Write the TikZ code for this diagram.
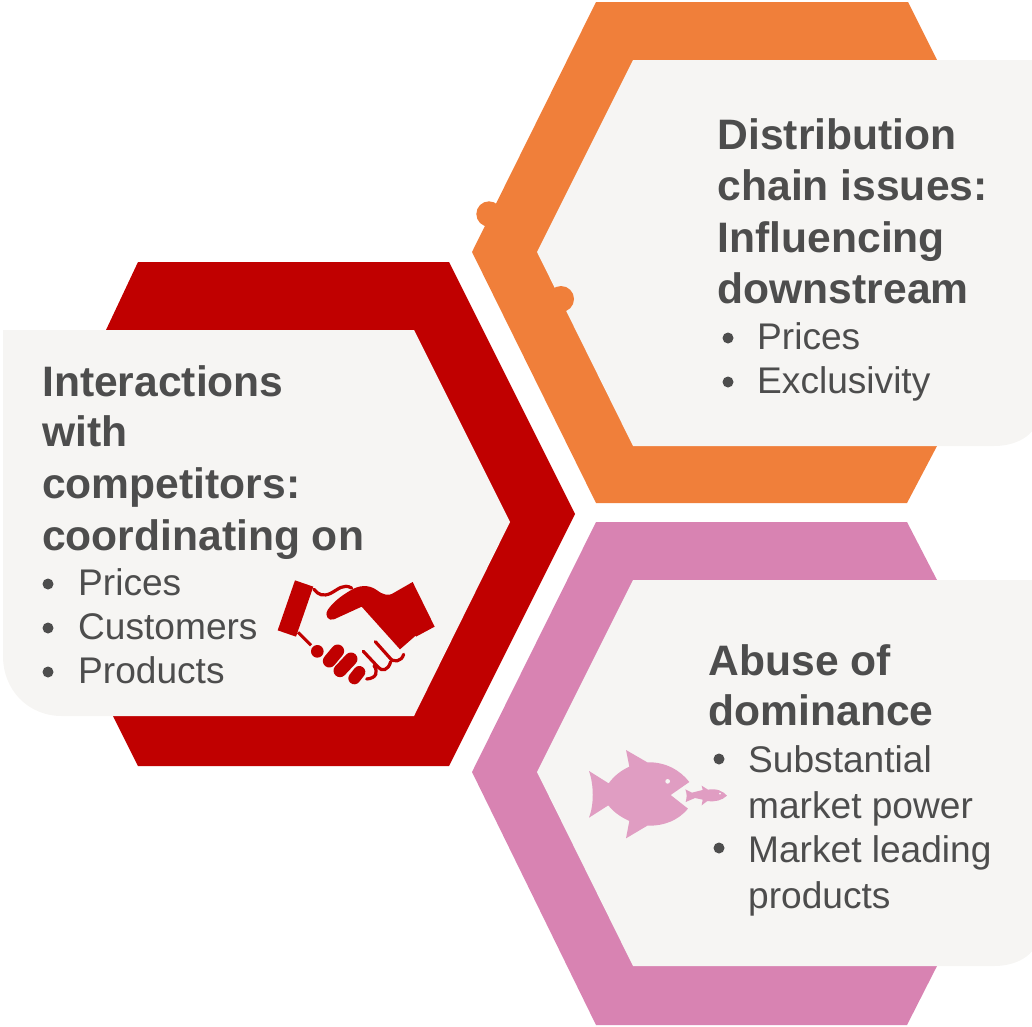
\documentclass[tikz,border=0pt]{standalone}
\usepackage{fontspec}
\setmainfont{Liberation Sans}
\definecolor{orangeC}{HTML}{F07F3A}
\definecolor{redC}{HTML}{C00000}
\definecolor{pinkC}{HTML}{D883B2}
\definecolor{fishC}{HTML}{E09DC2}
\definecolor{panelC}{HTML}{F6F5F3}
\definecolor{textC}{HTML}{4D4D4D}
\tikzset{
  heading/.style={anchor=base west,inner sep=0pt,text=textC,font=\fontsize{42.6}{42.6}\selectfont\bfseries},
  bodytext/.style={anchor=base west,inner sep=0pt,text=textC,font=\fontsize{37.1}{37.1}\selectfont},
  bulletdot/.style={circle,fill=textC,inner sep=0pt,minimum size=11pt},
  panel/.style={fill=panelC,draw=none},
  icon/.style={x=0.3333pt,y=-0.3333pt}
}
\begin{document}
\begin{tikzpicture}[x=1pt,y=-1pt]
\useasboundingbox (0,0) rectangle (1032,1026);
\clip (0,0) rectangle (1032,1026);
% orange
\fill[orangeC] (596,2) -- (908,2) -- (937,60) -- (937,446) -- (907,503) -- (596,503) -- (472,252) -- cycle;
\fill[orangeC] (489,214) circle (12.7);
\fill[panel] (633,60) -- (1040,60) -- (1040,410) .. controls (1040,432) and (1020,446) .. (994,446) -- (633,446) -- (537,252) -- cycle;
\fill[orangeC] (561,299) circle (13);
% red
\fill[redC] (138,262) -- (449,262) -- (575,514) -- (449,766) -- (138,766) -- (113,716) -- (106,330) -- cycle;
\fill[panel] (3,330) -- (414,330) -- (510,522) -- (414,716) -- (62,716) .. controls (28,716) and (3,690) .. (3,656) -- cycle;
% pink
\fill[pinkC] (596,522) -- (907,522) -- (937,580) -- (937,966) -- (907,1025) -- (596,1025) -- (472,772) -- cycle;
\fill[panel] (633,580) -- (1040,580) -- (1040,930) .. controls (1040,952) and (1020,966) .. (994,966) -- (633,966) -- (537,772) -- cycle;
% top-right text
\node[heading] (o1) at (717.5,149) {Distribution};
\node[heading] (o2) at (717.5,200) {chain issues:};
\node[heading] (o3) at (717.5,252) {Influencing};
\node[heading] (o4) at (717.5,303) {downstream};
\node[bulletdot] (ob1) at (728,338) {};
\node[bodytext] (o5) at (757,349) {Prices};
\node[bulletdot] (ob2) at (728,382) {};
\node[bodytext] (o6) at (757,393) {Exclusivity};
% left text
\node[heading] (r1) at (42,396) {Interactions};
\node[heading] (r2) at (42,446) {with};
\node[heading] (r3) at (42,498) {competitors:};
\node[heading] (r4) at (42,550) {coordinating on};
\node[bulletdot] (rb1) at (48,584) {};
\node[bodytext] (r5) at (78,595.5) {Prices};
\node[bulletdot] (rb2) at (48,628) {};
\node[bodytext] (r6) at (78,639.5) {Customers};
\node[bulletdot] (rb3) at (48,672) {};
\node[bodytext] (r7) at (78,683.5) {Products};
% bottom-right text
\node[heading] (p1) at (708.5,675) {Abuse of};
\node[heading] (p2) at (708.5,725) {dominance};
\node[bulletdot] (pb1) at (719,759) {};
\node[bodytext] (p3) at (748,772) {Substantial};
\node[bodytext] (p4) at (748,818) {market power};
\node[bulletdot] (pb2) at (719,848) {};
\node[bodytext] (p5) at (748,862) {Market leading};
\node[bodytext] (p6) at (748,908) {products};
% handshake
\begin{scope}[shift={(260,560)},icon]
\fill[redC] (105,61) -- (160,80) -- (108,230) -- (53,211) -- cycle;
\fill[redC] (458,66) -- (524,200) -- (468,230) -- (468,226) -- (420,268) -- (305,140) -- (222,178) .. controls (205,184) and (193,168) .. (203,150) .. controls (220,125) and (245,107) .. (270,92) .. controls (295,76) and (325,72) .. (350,90) .. controls (370,105) and (385,110) .. (404,97) -- cycle;
\draw[redC,line width=3.2pt,line cap=round] (162,88) .. controls (175,105) and (190,110) .. (212,100) .. controls (235,88) and (250,70) .. (275,84);
\draw[redC,line width=3pt] (114,217) -- (153,256);
\fill[redC] (172,274) circle (19);
\draw[redC,line width=13pt,line cap=round] (233,273) -- (208,303);
\draw[redC,line width=13pt,line cap=round] (273,297) -- (240,332);
\draw[redC,line width=12pt,line cap=round] (298,336) -- (283,355);
\draw[redC,line width=3.2pt,line cap=round] (346,245) -- (388,292) .. controls (400,310) and (425,305) .. (431,283);
\draw[redC,line width=3.2pt,line cap=round] (310,274) -- (355,322) .. controls (365,335) and (385,332) .. (392,305);
\draw[redC,line width=3.2pt,line cap=round] (342,317) .. controls (355,335) and (350,355) .. (320,357);
\end{scope}
% big fish
\begin{scope}[shift={(570,730)},icon]
\fill[fishC] (168,60) -- (232,97) .. controls (285,95) and (330,120) .. (358,156) -- (302,195) -- (354,236) .. controls (325,270) and (285,288) .. (232,287) -- (168,325) -- (178,273) .. controls (150,260) and (130,245) .. (115,226) -- (57,263) .. controls (72,225) and (72,165) .. (57,123) -- (116,160) .. controls (132,138) and (152,122) .. (178,110) -- cycle;
\fill[panelC] (293,154) circle (7);
\fill[fishC] (395,167) -- (414,179) .. controls (440,174) and (460,184) .. (471,197) .. controls (455,212) and (435,216) .. (412,213) -- (395,226) -- (398,209) -- (375,204) -- (347,216) .. controls (351,203) and (351,190) .. (346,178) -- (366,188) -- (398,180) -- cycle;
\fill[panelC] (450,191) circle (3);
\end{scope}
\end{tikzpicture}
\end{document}
